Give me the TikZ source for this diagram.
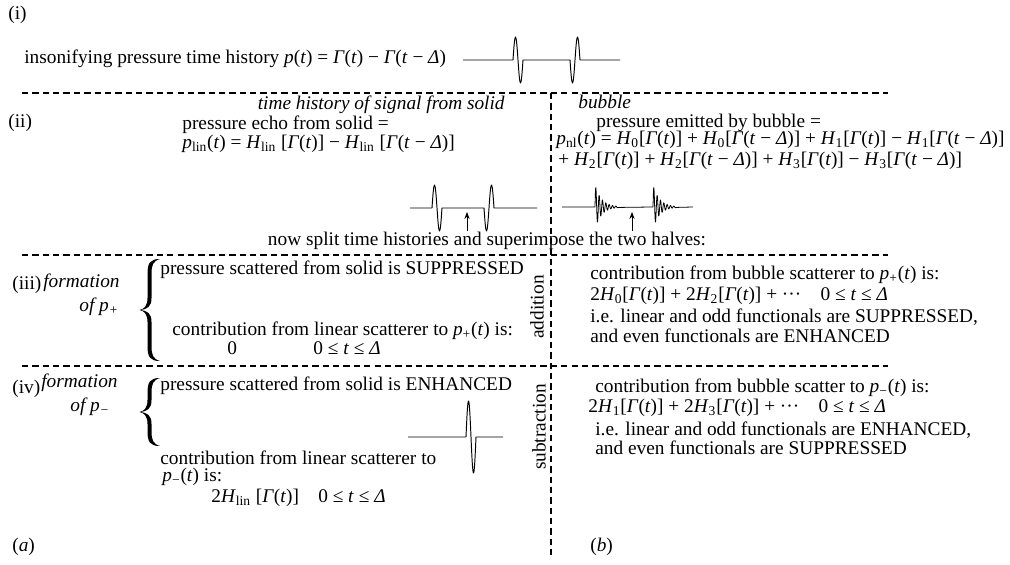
\documentclass[tikz,border=0pt]{standalone}
\usepackage{fontspec}
\setmainfont{Liberation Serif}
\usetikzlibrary{arrows.meta}

\newcommand{\figfont}{\fontsize{11}{13.2}\selectfont}
\newcommand{\vp}{\textit{p}}
\newcommand{\vt}{\textit{t}}
\newcommand{\Dl}{\textit{Δ}}
\newcommand{\Gt}{\textit{Γ}(\textit{t})}
\newcommand{\Gtd}{\textit{Γ}(\textit{t} − \textit{Δ})}
\newcommand{\Hsub}[1]{\textit{H}\textsubscript{#1}}
% one cycle of a pulse, up first or down first
\newcommand{\pulseup}[1]{sin ++(0.05,#1) cos ++(0.05,-#1) sin ++(0.05,-#1) cos ++(0.05,#1)}
\newcommand{\pulsedown}[1]{sin ++(0.05,-#1) cos ++(0.05,#1) sin ++(0.05,#1) cos ++(0.05,-#1)}
% filled curly brace, half height #1, tips to the right
\newcommand{\bigbrace}[1]{%
  (0.2,#1) .. controls (0.0,#1) and (-0.05,{#1-0.08}) .. (-0.05,{#1-0.3})
  -- (-0.05,0.24) .. controls (-0.05,0.08) and (-0.12,0.015) .. (-0.21,0)
  .. controls (-0.12,-0.015) and (-0.05,-0.08) .. (-0.05,-0.24)
  -- (-0.05,{-#1+0.3}) .. controls (-0.05,{-#1+0.08}) and (0.0,-#1) .. (0.2,-#1)
  .. controls (0.06,{-#1+0.04}) and (0.03,{-#1+0.12}) .. (0.03,{-#1+0.3})
  -- (0.03,-0.24) .. controls (0.03,-0.06) and (-0.06,-0.01) .. (-0.21,0)
  .. controls (-0.06,0.01) and (0.03,0.06) .. (0.03,0.24)
  -- (0.03,{#1-0.3}) .. controls (0.03,{#1-0.12}) and (0.06,{#1-0.04}) .. (0.2,#1) -- cycle}

\tikzset{
  lbl/.style={anchor=west, inner sep=0pt, font=\figfont},
  itlbl/.style={anchor=west, inner sep=0pt, font=\figfont\itshape},
  side/.style={rotate=90, inner sep=0pt, font=\figfont},
  sepline/.style={line width=1.1pt, dash pattern=on 3.6pt off 2.3pt},
  wave/.style={line width=0.55pt, line join=round},
}

\begin{document}
\begin{tikzpicture}[>={Stealth[length=4pt,width=3pt]}, font=\figfont]
  \useasboundingbox (0,0) rectangle (20.2,-11.3);

  % separators
  \draw[sepline] (0.44,-1.86) -- (17.76,-1.86);
  \draw[sepline] (0.44,-5.1) -- (17.76,-5.1);
  \draw[sepline] (0.44,-7.32) -- (17.76,-7.32);
  \draw[sepline] (11.02,-1.86) -- (11.02,-11.1);

  % (i) insonifying pulse
  \node[lbl] (lbli) at (0.16,-0.3) {(i)};
  \node[lbl] (insonify) at (0.48,-1.18) {insonifying pressure time history \vp(\vt) = \Gt{} − \Gtd};
  \draw[wave] (9.26,-1.2) -- (10.26,-1.2) \pulseup{0.46} -- (11.4,-1.2) \pulsedown{0.46} -- (12.4,-1.2);

  % (ii) echoes
  \node[lbl] (lblii) at (0.16,-2.46) {(ii)};
  \node[itlbl, anchor=east] (solidhd) at (10.1,-2.1) {time history of signal from solid};
  \node[lbl] (echo) at (3.64,-2.5) {pressure echo from solid =};
  \node[lbl] (plin) at (3.64,-2.88) {\vp\textsubscript{lin}(\vt) = \Hsub{lin} [\Gt] − \Hsub{lin} [\Gtd]};
  \node[itlbl] (bubblehd) at (11.56,-2.03) {bubble};
  \node[lbl] (emit) at (11.92,-2.45) {pressure emitted by bubble =};
  \node[lbl] (pnla) at (11.12,-2.8) {\vp\textsubscript{nl}(\vt) = \Hsub{0}[\Gt] + \Hsub{0}[\Gtd] + \Hsub{1}[\Gt] − \Hsub{1}[\Gtd]};
  \node[lbl] (pnlb) at (11.16,-3.22) {+ \Hsub{2}[\Gt] + \Hsub{2}[\Gtd] + \Hsub{3}[\Gt] − \Hsub{3}[\Gtd]};

  \draw[wave] (8.2,-4.16) -- (8.64,-4.16) \pulseup{0.46} -- (9.68,-4.16) \pulsedown{0.46} -- (10.74,-4.16);
  \draw[wave, line width=0.45pt] (11.24,-4.14) -- (11.9,-4.14)
    -- plot[domain=0:0.46, samples=160, variable=\s] ({11.9+\s},{-4.14+0.44*exp(-\s/0.13)*sin(5400*\s)})
    -- (13.06,-4.14)
    -- plot[domain=0:0.46, samples=160, variable=\s] ({13.06+\s},{-4.14+0.44*exp(-\s/0.13)*sin(5400*\s)})
    -- (13.86,-4.14);
  \coordinate (sarrb) at (9.34,-4.62);
  \coordinate (sarrt) at (9.34,-4.24);
  \coordinate (barrb) at (12.64,-4.62);
  \coordinate (barrt) at (12.64,-4.24);
  \draw[->, line width=0.5pt] (sarrb) -- (sarrt);
  \draw[->, line width=0.5pt] (barrb) -- (barrt);
  \node (split) at (9.74,-4.82) {now split time histories and superimpose the two halves:};

  % (iii) addition
  \node[lbl] (lbliii) at (0.24,-5.7) {(iii)};
  \node[itlbl] (formp) at (0.86,-5.66) {formation};
  \node[itlbl] (ofpp) at (1.58,-6.14) {of \vp\textsubscript{+}};
  \fill[shift={(3.0,-6.2)}] \bigbrace{1.02};
  \node[lbl] (supp) at (3.2,-5.4) {pressure scattered from solid is SUPPRESSED};
  \node[lbl] (linp) at (3.44,-6.62) {contribution from linear scatterer to \vp\textsubscript{+}(\vt) is:};
  \node[lbl] (zero) at (4.54,-6.96) {0};
  \node[lbl] (rngp) at (6.26,-6.96) {0 ≤ \vt{} ≤ \Dl};
  \node[side] (addn) at (10.74,-6.14) {addition};
  \node[lbl] (bubp) at (11.8,-5.5) {contribution from bubble scatterer to \vp\textsubscript{+}(\vt) is:};
  \node[lbl] (bubpf) at (11.8,-5.92) {2\Hsub{0}[\Gt] + 2\Hsub{2}[\Gt] + ···\quad 0 ≤ \vt{} ≤ \Dl};
  \node[lbl] (bubpa) at (11.8,-6.34) {i.e. linear and odd functionals are SUPPRESSED,};
  \node[lbl] (bubpb) at (11.8,-6.72) {and even functionals are ENHANCED};

  % (iv) subtraction
  \node[lbl] (lbliv) at (0.24,-7.78) {(iv)};
  \node[itlbl] (formm) at (0.82,-7.66) {formation};
  \node[itlbl] (ofpm) at (1.4,-8.14) {of \vp\textsubscript{−}};
  \fill[shift={(3.0,-8.24)}] \bigbrace{0.68};
  \node[lbl] (enh) at (3.2,-7.72) {pressure scattered from solid is ENHANCED};
  \draw[wave] (8.16,-8.74) -- (9.32,-8.74) \pulseup{0.72} -- (10.06,-8.74);
  \node[lbl] (linm) at (3.2,-9.16) {contribution from linear scatterer to};
  \node[lbl] (linmb) at (3.24,-9.54) {\vp\textsubscript{−}(\vt) is:};
  \node[lbl] (linmf) at (4.22,-9.96) {2\Hsub{lin} [\Gt]\quad 0 ≤ \vt{} ≤ \Dl};
  \node[side] (subt) at (10.78,-8.54) {subtraction};
  \node[lbl] (bubm) at (11.9,-7.76) {contribution from bubble scatter to \vp\textsubscript{−}(\vt) is:};
  \node[lbl] (bubmf) at (11.76,-8.16) {2\Hsub{1}[\Gt] + 2\Hsub{3}[\Gt] + ···\quad 0 ≤ \vt{} ≤ \Dl};
  \node[lbl] (bubma) at (11.9,-8.6) {i.e. linear and odd functionals are ENHANCED,};
  \node[lbl] (bubmb) at (11.9,-8.96) {and even functionals are SUPPRESSED};

  \node[lbl] (capa) at (0.24,-10.94) {(\textit{a})};
  \node[lbl] (capb) at (11.8,-10.94) {(\textit{b})};
\end{tikzpicture}
\end{document}
